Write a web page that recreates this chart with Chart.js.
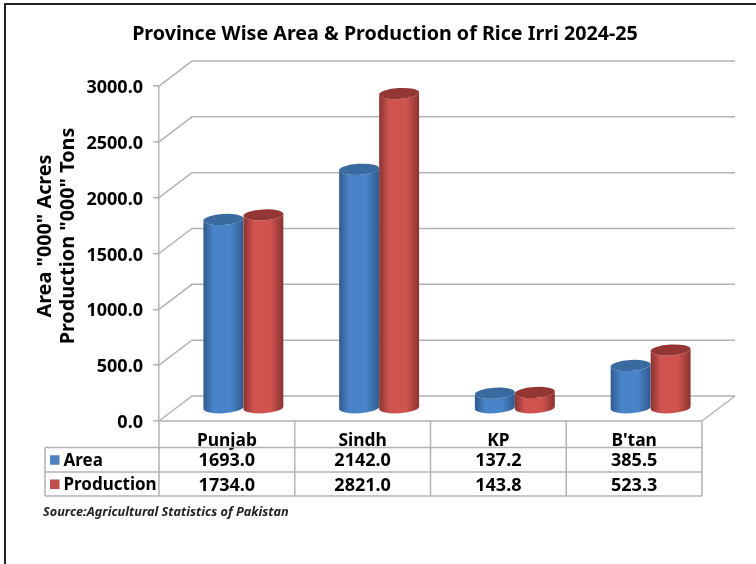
<!DOCTYPE html>
<html>
<head>
<meta charset="utf-8">
<style>
  html, body { margin: 0; padding: 0; background: #fff; }
  canvas { display: block; }
</style>
<script src="https://cdn.jsdelivr.net/npm/chart.js@4"></script>
</head>
<body>
<canvas id="chart" width="756" height="564"></canvas>
<script>
const categories = ["Punjab", "Sindh", "KP", "B'tan"];
const areaValues = [1693.0, 2142.0, 137.2, 385.5];
const productionValues = [1734.0, 2821.0, 143.8, 523.3];
const axisLines = ['Area "000" Acres', 'Production "000" Tons'];
const sourceText = "Source:Agricultural Statistics of Pakistan";

const FONT = "'Noto Sans', sans-serif";
const GRID = "#b3b3b3";
const DEPTH_X = 33;
const DEPTH_Y = 25;

const SHADES = {
    area: { key: "#4f81bd", cap: "#3a6a9f", edge: "#2f5a8e", mid: "#4a84c8" },
    production: { key: "#c0504d", cap: "#943634", edge: "#8a3230", mid: "#cf5450" }
};

function drawWalls(chart) {
    const ctx = chart.ctx;
    const yScale = chart.scales.y;
    const { left, right } = chart.chartArea;
    ctx.save();
    ctx.strokeStyle = GRID;
    ctx.lineWidth = 1.5;
    yScale.ticks.forEach(tick => {
        const y = yScale.getPixelForValue(tick.value);
        ctx.beginPath();
        ctx.moveTo(left, y);
        ctx.lineTo(left + DEPTH_X, y - DEPTH_Y);
        ctx.lineTo(right + DEPTH_X, y - DEPTH_Y);
        ctx.stroke();
    });
    // floor, right hand edge
    const floor = yScale.getPixelForValue(0);
    ctx.beginPath();
    ctx.moveTo(right, floor);
    ctx.lineTo(right + DEPTH_X, floor - DEPTH_Y);
    ctx.stroke();
    ctx.restore();
}

function drawCylinder(ctx, bar, shade) {
    const cx = bar.x + DEPTH_X / 2;
    const rx = bar.width / 2;
    const ry = 5.5;
    const tilt = -0.06;
    const top = bar.y - DEPTH_Y / 2;
    const bottom = bar.base - DEPTH_Y / 2;

    const gradient = ctx.createLinearGradient(cx - rx, 0, cx + rx, 0);
    gradient.addColorStop(0, shade.edge);
    gradient.addColorStop(0.25, shade.mid);
    gradient.addColorStop(0.68, shade.mid);
    gradient.addColorStop(1, shade.edge);

    ctx.fillStyle = gradient;
    ctx.beginPath();
    ctx.ellipse(cx, bottom, rx, ry, tilt, 0, Math.PI);
    ctx.ellipse(cx, top, rx, ry, tilt, Math.PI, 0, true);
    ctx.closePath();
    ctx.fill();

    ctx.fillStyle = shade.cap;
    ctx.beginPath();
    ctx.ellipse(cx, top, rx, ry, tilt, 0, Math.PI * 2);
    ctx.fill();
}

function drawTable(chart) {
    const ctx = chart.ctx;
    const xScale = chart.scales.x;
    const { left, right, bottom } = chart.chartArea;
    const tableLeft = 45;
    const rows = [bottom, 447.5, 472, 496];
    const step = (right - left) / categories.length;
    const series = [
        { name: "Area", values: areaValues, shade: SHADES.area },
        { name: "Production", values: productionValues, shade: SHADES.production }
    ];

    ctx.save();
    ctx.strokeStyle = GRID;
    ctx.lineWidth = 1.5;
    ctx.beginPath();
    ctx.moveTo(left, rows[0]);
    ctx.lineTo(right, rows[0]);
    for (let i = 1; i < rows.length; i++) {
        ctx.moveTo(tableLeft, rows[i]);
        ctx.lineTo(right, rows[i]);
    }
    for (let i = 0; i <= categories.length; i++) {
        ctx.moveTo(left + i * step, rows[0]);
        ctx.lineTo(left + i * step, rows[3]);
    }
    ctx.moveTo(tableLeft, rows[1]);
    ctx.lineTo(tableLeft, rows[3]);
    ctx.stroke();

    ctx.textBaseline = "middle";
    series.forEach((item, r) => {
        const mid = (rows[r + 1] + rows[r + 2]) / 2;
        ctx.fillStyle = item.shade.key;
        ctx.fillRect(50, mid - 4.5, 9.5, 9.5);
        ctx.fillStyle = "#000";
        ctx.textAlign = "left";
        ctx.font = "bold 17px " + FONT;
        ctx.fillText(item.name, 63.5, mid + 1.5);
        ctx.textAlign = "center";
        ctx.font = "bold 18px " + FONT;
        item.values.forEach((v, c) => {
            ctx.fillText(v.toFixed(1), xScale.getPixelForValue(c), mid + 1.5);
        });
    });

    ctx.textAlign = "left";
    ctx.font = "italic bold 12.7px " + FONT;
    ctx.fillStyle = "#222";
    ctx.fillText(sourceText, 43, 512.5);
    ctx.restore();
}

function drawAxisTitle(chart) {
    const ctx = chart.ctx;
    ctx.save();
    ctx.font = "bold 19.8px " + FONT;
    ctx.fillStyle = "#000";
    ctx.textAlign = "center";
    ctx.textBaseline = "middle";
    ctx.translate(45, 236);
    ctx.rotate(-Math.PI / 2);
    ctx.fillText(axisLines[0], 0, 0);
    ctx.fillText(axisLines[1], 0, 23);
    ctx.restore();
}

const rice3d = {
    id: "rice3d",
    beforeDatasetsDraw(chart) {
        drawWalls(chart);
        // production has to sit over area, so draw in dataset order
        chart.data.datasets.forEach((ds, i) => {
            const shade = i === 0 ? SHADES.area : SHADES.production;
            chart.getDatasetMeta(i).data.forEach(bar => drawCylinder(chart.ctx, bar, shade));
        });
    },
    beforeDatasetDraw() {
        return false;
    },
    afterDraw(chart) {
        const ctx = chart.ctx;
        drawTable(chart);
        drawAxisTitle(chart);
        // picture frame, open at the bottom
        ctx.save();
        ctx.strokeStyle = "#222";
        ctx.lineWidth = 2;
        ctx.beginPath();
        ctx.moveTo(5, 564);
        ctx.lineTo(5, 4);
        ctx.lineTo(756, 4);
        ctx.stroke();
        ctx.restore();
    }
};

new Chart(document.getElementById("chart"), {
    type: "bar",
    data: {
        labels: categories,
        datasets: [
            { label: "Area", data: areaValues, backgroundColor: SHADES.area.key, barThickness: 40 },
            { label: "Production", data: productionValues, backgroundColor: SHADES.production.key, barThickness: 40 }
        ]
    },
    options: {
        responsive: false,
        animation: false,
        layout: { padding: { left: 68, right: 54, top: 0, bottom: 0 } },
        plugins: {
            legend: { display: false },
            tooltip: { enabled: false },
            title: {
                display: true,
                text: "Province Wise Area & Production of Rice Irri 2024-25",
                color: "#000",
                font: { family: FONT, size: 19.7, weight: "bold" },
                padding: { top: 22.5, bottom: 39.9 }
            }
        },
        scales: {
            x: {
                afterFit(scale) { scale.height = 143; },
                grid: { display: false },
                border: { display: false },
                ticks: { color: "#000", padding: 2, font: { family: FONT, size: 17.4, weight: "bold" } }
            },
            y: {
                min: 0,
                max: 3000,
                afterFit(scale) { scale.width = 91; },
                grid: { drawOnChartArea: false, color: GRID, tickLength: 6, lineWidth: 1.5 },
                border: { color: GRID, width: 1.5 },
                ticks: {
                    stepSize: 500,
                    color: "#000",
                    padding: 10,
                    labelOffset: 2,
                    font: { family: FONT, size: 18, weight: "bold" },
                    callback: v => Number(v).toFixed(1)
                }
            }
        }
    },
    plugins: [rice3d]
});
</script>
</body>
</html>
